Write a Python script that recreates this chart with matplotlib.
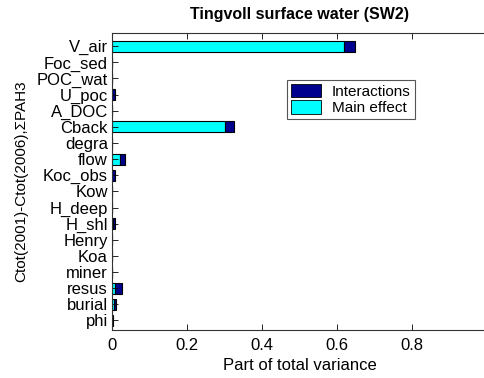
import matplotlib
matplotlib.use("Agg")
import matplotlib.pyplot as plt
from matplotlib.patches import Patch
import numpy as np

plt.rcParams['font.family'] = ['Liberation Sans', 'DejaVu Sans']

# Parameters, listed top to bottom
params = ["V_air", "Foc_sed", "POC_wat", "U_poc", "A_DOC", "Cback", "degra",
          "flow", "Koc_obs", "Kow", "H_deep", "H_shl", "Henry", "Koa",
          "miner", "resus", "burial", "phi"]
main_effect = [0.620, 0.0, 0.0, 0.001, 0.0, 0.301, 0.0,
               0.021, 0.001, 0.0, 0.0, 0.002, 0.0, 0.0,
               0.0, 0.008, 0.005, 0.0005]
interactions = [0.028, 0.0, 0.0, 0.007, 0.0, 0.024, 0.0,
                0.014, 0.007, 0.0, 0.0, 0.005, 0.0, 0.0,
                0.0, 0.018, 0.006, 0.0015]
xticks = [0, 0.2, 0.4, 0.6, 0.8]
xticklabels = ["0", "0.2", "0.4", "0.6", "0.8"]

navy = "#00008f"
cyan = "#00ffff"

fig = plt.figure(figsize=(4.85, 3.78), dpi=100)
ax = fig.add_axes([112/485, 1 - 330/378, 375/485, 297/378])

n = len(params)
y = np.arange(n, 0, -1)
main = np.array(main_effect)
inter = np.array(interactions)
ax.barh(y, main, height=0.68, color=cyan, edgecolor="black", linewidth=0.8)
ax.barh(y, inter, left=main, height=0.68, color=navy, edgecolor="black", linewidth=0.8)

ax.set_ylim(0.41, n + 0.82)
ax.set_xlim(0, 1.0)
ax.set_yticks(y)
ax.set_yticklabels(params, fontsize=12)
ax.set_xticks(xticks)
ax.set_xticklabels(xticklabels, fontsize=12)
ax.tick_params(direction="in", length=4, width=0.6, top=True, right=False, pad=3)
ax.tick_params(axis="x", pad=6)
ax.spines["right"].set_visible(False)
for s in ax.spines.values():
    s.set_linewidth(0.8)
    s.set_color("#333333")

ax.set_xlabel("Part of total variance", fontsize=12, labelpad=3)
ax.set_ylabel("Ctot(2001)-Ctot(2006),ΣPAH3", fontsize=11, labelpad=6)
ax.set_title("Tingvoll surface water (SW2)", fontsize=11.5, fontweight="bold", pad=10)

handles = [Patch(facecolor=navy, edgecolor="black", linewidth=0.6, label="Interactions"),
           Patch(facecolor=cyan, edgecolor="black", linewidth=0.6, label="Main effect")]
leg = ax.legend(handles=handles, loc="upper left", bbox_to_anchor=(175/375, 1 - 47/297),
                fontsize=11, fancybox=False, framealpha=1, edgecolor="#555555",
                handlelength=2.0, handleheight=1.0, borderpad=0.25, labelspacing=0.1,
                handletextpad=0.7, borderaxespad=0)
leg.get_frame().set_linewidth(0.8)

fig.savefig("out.png", dpi=100)
